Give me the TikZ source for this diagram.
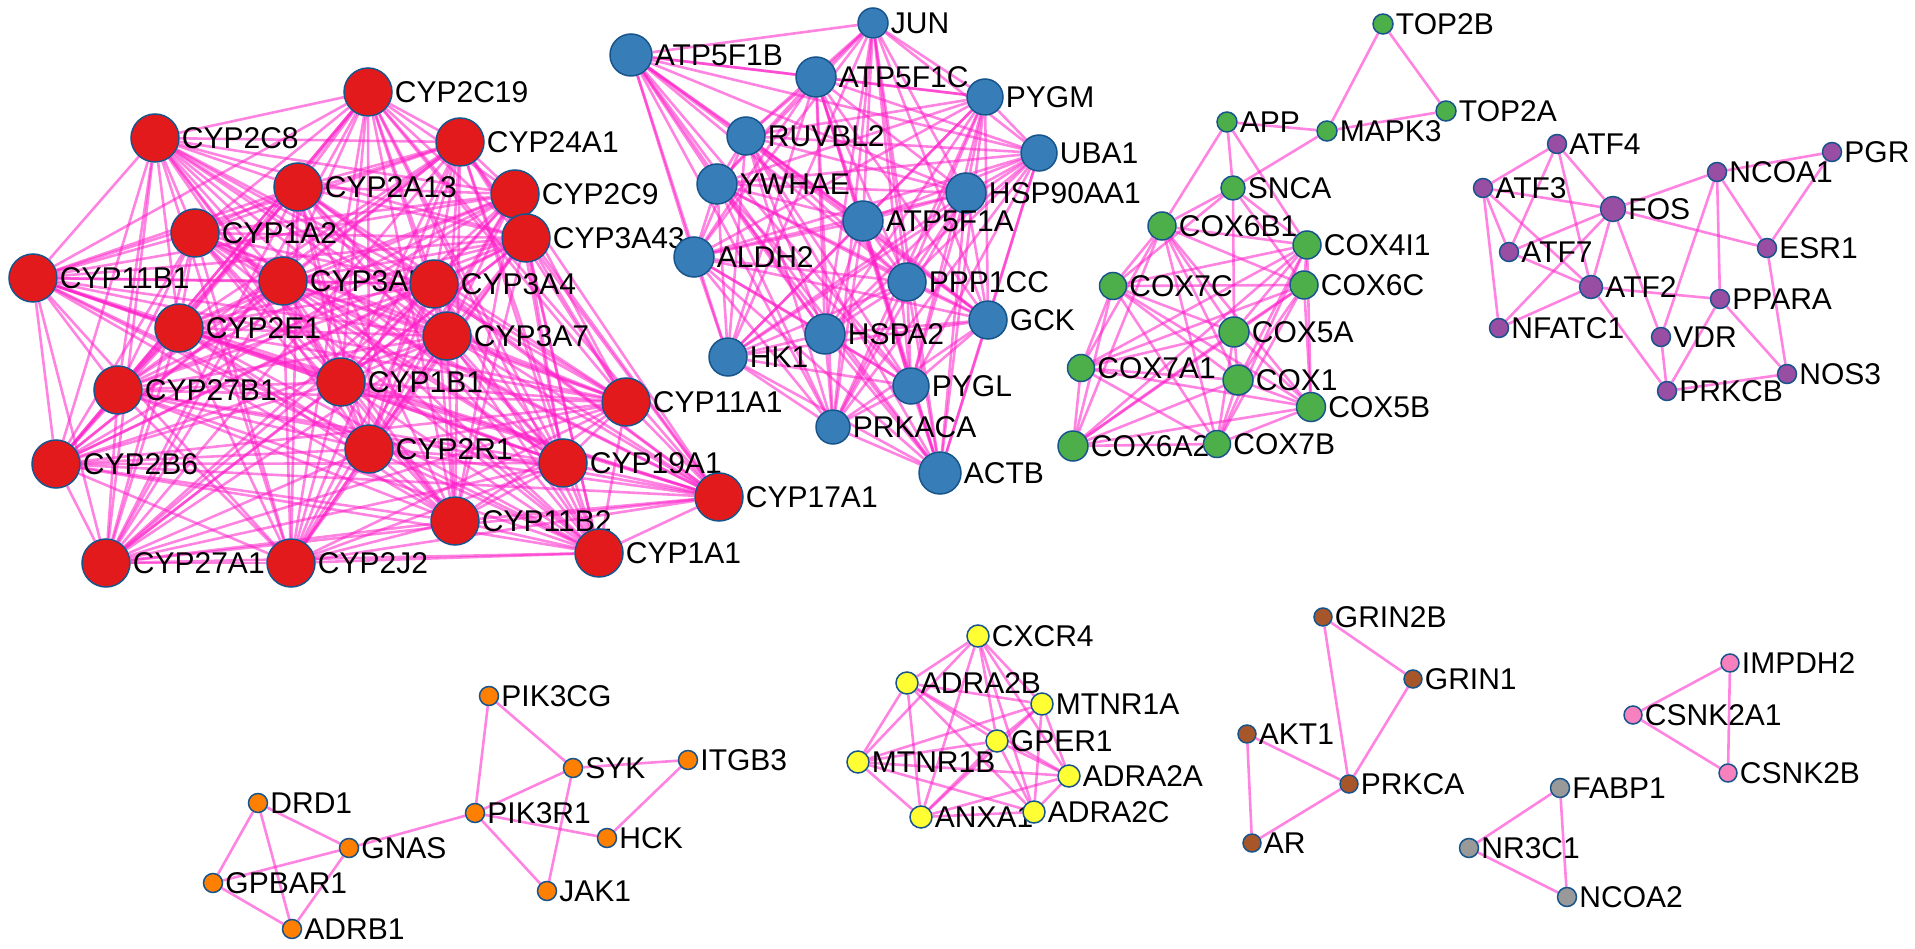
\documentclass[tikz,border=0pt]{standalone}
\usepackage{fontspec}
\setmainfont{Liberation Sans}
\usetikzlibrary{backgrounds}
\definecolor{cypred}{RGB}{227,26,28}
\definecolor{hubblue}{RGB}{55,126,184}
\definecolor{coxgreen}{RGB}{77,175,74}
\definecolor{atfpurple}{RGB}{152,78,163}
\definecolor{pikorange}{RGB}{255,127,0}
\definecolor{adrayellow}{RGB}{255,255,51}
\definecolor{grinbrown}{RGB}{166,86,40}
\definecolor{ckpink}{RGB}{247,129,191}
\definecolor{nrgray}{RGB}{153,153,153}
\definecolor{rim}{RGB}{24,84,140}
\definecolor{linkpink}{RGB}{255,30,200}

\tikzset{
  gene/.style={circle, draw=rim, line width=1.5pt, inner sep=0pt, minimum size=#1},
  cyp/.style={gene=48pt, fill=cypred},
  hub/.style={gene=#1, fill=hubblue}, hub/.default=38pt,
  cox/.style={gene=#1, fill=coxgreen}, cox/.default=28pt,
  atf/.style={gene=#1, fill=atfpurple}, atf/.default=19pt,
  pik/.style={gene=19pt, fill=pikorange},
  adra/.style={gene=22pt, fill=adrayellow},
  grin/.style={gene=18pt, fill=grinbrown},
  ck/.style={gene=18pt, fill=ckpink},
  nr/.style={gene=19pt, fill=nrgray},
  link/.style={linkpink, line width=2.6pt, opacity=0.55},
  every label/.style={font=\fontsize{30}{31}\selectfont, inner sep=0pt},
  label distance=2pt
}

% every pair of a list gets a link
\newcommand{\fullmesh}[1]{%
  \foreach \a [count=\i] in {#1} {
    \foreach \b [count=\j] in {#1} {
      \ifnum\j>\i\relax \draw[link] (\a) -- (\b); \fi
    }
  }
}

\begin{document}
\begin{tikzpicture}[x=1pt, y=-1pt]
  \useasboundingbox (0,0) rectangle (1915,949);

  % CYP cluster
  \node[cyp, label=right:CYP2C19] (c2C19) at (368,92) {};
  \node[cyp, label=right:CYP2C8] (c2C8) at (155,138) {};
  \node[cyp, label=right:CYP24A1] (c24A1) at (460,142) {};
  \node[cyp, label=right:CYP2A13] (c2A13) at (298,187) {};
  \node[cyp, label=right:CYP2C9] (c2C9) at (515,194) {};
  \node[cyp, label=right:CYP3A43] (c3A43) at (526,238) {};
  \node[cyp, label=right:CYP1A2] (c1A2) at (195,233) {};
  \node[cyp, label=right:CYP11B1] (c11B1) at (33,278) {};
  \node[cyp, label=right:CYP3A5] (c3A5) at (283,281) {};
  \node[cyp, label=right:CYP3A4] (c3A4) at (434,284) {};
  \node[cyp, label=right:CYP2E1] (c2E1) at (179,328) {};
  \node[cyp, label=right:CYP3A7] (c3A7) at (447,336) {};
  \node[cyp, label=right:CYP27B1] (c27B1) at (118,390) {};
  \node[cyp, label=right:CYP1B1] (c1B1) at (341,382) {};
  \node[cyp, label=right:CYP11A1] (c11A1) at (626,402) {};
  \node[cyp, label=right:CYP2B6] (c2B6) at (56,464) {};
  \node[cyp, label=right:CYP2R1] (c2R1) at (369,449) {};
  \node[cyp, label=right:CYP19A1] (c19A1) at (563,463) {};
  \node[cyp, label=right:CYP17A1] (c17A1) at (719,497) {};
  \node[cyp, label=right:CYP11B2] (c11B2) at (455,521) {};
  \node[cyp, label=right:CYP27A1] (c27A1) at (106,563) {};
  \node[cyp, label=right:CYP2J2] (c2J2) at (291,563) {};
  \node[cyp, label=right:CYP1A1] (c1A1) at (599,553) {};

  % ATP / kinase cluster
  \node[hub=30pt, label=right:JUN] (JUN) at (873,23) {};
  \node[hub=42pt, label=right:ATP5F1B] (ATP5F1B) at (631,55) {};
  \node[hub=40pt, label=right:ATP5F1C] (ATP5F1C) at (816,77) {};
  \node[hub=36pt, label=right:PYGM] (PYGM) at (985,97) {};
  \node[hub, label=right:RUVBL2] (RUVBL2) at (746,136) {};
  \node[hub=36pt, label=right:UBA1] (UBA1) at (1039,153) {};
  \node[hub=40pt, label=right:YWHAE] (YWHAE) at (717,184) {};
  \node[hub=40pt, label=right:HSP90AA1] (HSP90AA1) at (966,193) {};
  \node[hub=40pt, label=right:ATP5F1A] (ATP5F1A) at (863,221) {};
  \node[hub=40pt, label=right:ALDH2] (ALDH2) at (694,257) {};
  \node[hub, label=right:PPP1CC] (PPP1CC) at (907,282) {};
  \node[hub, label=right:GCK] (GCK) at (988,320) {};
  \node[hub=40pt, label=right:HSPA2] (HSPA2) at (825,334) {};
  \node[hub, label=right:HK1] (HK1) at (728,357) {};
  \node[hub=36pt, label=right:PYGL] (PYGL) at (911,386) {};
  \node[hub=34pt, label=right:PRKACA] (PRKACA) at (833,427) {};
  \node[hub=42pt, label=right:ACTB] (ACTB) at (940,473) {};

  % COX cluster
  \node[cox=20pt, label=right:TOP2B] (TOP2B) at (1383,24) {};
  \node[cox=20pt, label=right:TOP2A] (TOP2A) at (1446,111) {};
  \node[cox=20pt, label=right:APP] (APP) at (1227,122) {};
  \node[cox=20pt, label=right:MAPK3] (MAPK3) at (1327,131) {};
  \node[cox=24pt, label=right:SNCA] (SNCA) at (1233,188) {};
  \node[cox, label=right:COX6B1] (COX6B1) at (1162,226) {};
  \node[cox, label=right:COX4I1] (COX4I1) at (1307,245) {};
  \node[cox=27pt, label=right:COX7C] (COX7C) at (1113,286) {};
  \node[cox, label=right:COX6C] (COX6C) at (1304,285) {};
  \node[cox=30pt, label=right:COX5A] (COX5A) at (1234,332) {};
  \node[cox=27pt, label=right:COX7A1] (COX7A1) at (1081,368) {};
  \node[cox=30pt, label=right:COX1] (COX1) at (1238,380) {};
  \node[cox=29pt, label=right:COX5B] (COX5B) at (1311,407) {};
  \node[cox=30pt, label=right:COX6A2] (COX6A2) at (1073,446) {};
  \node[cox=27pt, label=right:COX7B] (COX7B) at (1217,444) {};

  % ATF cluster
  \node[atf, label=right:ATF4] (ATF4) at (1557,144) {};
  \node[atf, label=right:ATF3] (ATF3) at (1483,188) {};
  \node[atf=25pt, label=right:FOS] (FOS) at (1613,209) {};
  \node[atf, label=right:NCOA1] (NCOA1) at (1717,172) {};
  \node[atf, label=right:PGR] (PGR) at (1832,152) {};
  \node[atf, label=right:ATF7] (ATF7) at (1509,252) {};
  \node[atf, label=right:ESR1] (ESR1) at (1767,248) {};
  \node[atf=23pt, label=right:ATF2] (ATF2) at (1591,287) {};
  \node[atf, label=right:PPARA] (PPARA) at (1720,299) {};
  \node[atf, label=right:NFATC1] (NFATC1) at (1499,328) {};
  \node[atf, label=right:VDR] (VDR) at (1661,337) {};
  \node[atf, label=right:NOS3] (NOS3) at (1787,374) {};
  \node[atf, label=right:PRKCB] (PRKCB) at (1667,391) {};

  % PIK3 cluster
  \node[pik, label=right:PIK3CG] (PIK3CG) at (489,696) {};
  \node[pik, label=right:SYK] (SYK) at (573,768) {};
  \node[pik, label=right:ITGB3] (ITGB3) at (688,760) {};
  \node[pik, label=right:DRD1] (DRD1) at (258,803) {};
  \node[pik, label=right:PIK3R1] (PIK3R1) at (475,813) {};
  \node[pik, label=right:HCK] (HCK) at (607,838) {};
  \node[pik, label=right:GNAS] (GNAS) at (349,848) {};
  \node[pik, label=right:GPBAR1] (GPBAR1) at (213,883) {};
  \node[pik, label=right:JAK1] (JAK1) at (547,891) {};
  \node[pik, label=right:ADRB1] (ADRB1) at (292,929) {};

  % receptor cluster
  \node[adra, label=right:CXCR4] (CXCR4) at (978,636) {};
  \node[adra, label=right:ADRA2B] (ADRA2B) at (907,683) {};
  \node[adra, label=right:MTNR1A] (MTNR1A) at (1042,704) {};
  \node[adra, label=right:MTNR1B] (MTNR1B) at (858,762) {};
  \node[adra, label=right:GPER1] (GPER1) at (997,741) {};
  \node[adra, label=right:ADRA2A] (ADRA2A) at (1069,776) {};
  \node[adra, label=right:ANXA1] (ANXA1) at (921,817) {};
  \node[adra, label=right:ADRA2C] (ADRA2C) at (1034,812) {};

  % small groups
  \node[grin, label=right:GRIN2B] (GRIN2B) at (1323,617) {};
  \node[grin, label=right:GRIN1] (GRIN1) at (1413,679) {};
  \node[grin, label=right:AKT1] (AKT1) at (1247,734) {};
  \node[grin, label=right:PRKCA] (PRKCA) at (1349,784) {};
  \node[grin, label=right:AR] (AR) at (1252,843) {};
  \node[ck, label=right:IMPDH2] (IMPDH2) at (1730,663) {};
  \node[ck, label=right:CSNK2A1] (CSNK2A1) at (1633,715) {};
  \node[ck, label=right:CSNK2B] (CSNK2B) at (1728,773) {};
  \node[nr, label=right:FABP1] (FABP1) at (1560,788) {};
  \node[nr, label=right:NR3C1] (NR3C1) at (1469,848) {};
  \node[nr, label=right:NCOA2] (NCOA2) at (1567,897) {};

  % links, behind the nodes
  \begin{scope}[on background layer]
    \fullmesh{c2C19,c2C8,c24A1,c2A13,c2C9,c3A43,c1A2,c11B1,c3A5,c3A4,c2E1,c3A7,c27B1,c1B1,c11A1,c2B6,c2R1,c19A1,c17A1,c11B2,c27A1,c2J2,c1A1}
    \fullmesh{JUN,ATP5F1B,ATP5F1C,PYGM,RUVBL2,UBA1,YWHAE,HSP90AA1,ATP5F1A,ALDH2,PPP1CC,GCK,HSPA2,HK1,PYGL,PRKACA,ACTB}
    \fullmesh{COX6B1,COX4I1,COX7C,COX6C,COX5A,COX7A1,COX1,COX5B,COX6A2,COX7B}
    \fullmesh{CXCR4,ADRA2B,MTNR1A,MTNR1B,GPER1,ADRA2A,ANXA1,ADRA2C}
    \foreach \a/\b in {TOP2B/MAPK3, TOP2B/TOP2A, TOP2A/MAPK3, MAPK3/APP, MAPK3/SNCA,
        APP/SNCA, APP/COX6B1, APP/COX4I1, SNCA/COX6B1, SNCA/COX7C, SNCA/COX5A,
        SNCA/COX4I1, SNCA/COX6C}
      \draw[link] (\a) -- (\b);
    \foreach \a/\b in {ATF4/ATF3, ATF4/FOS, ATF4/ATF7, ATF4/ATF2, ATF3/FOS, ATF3/ATF7,
        ATF3/ATF2, ATF3/NFATC1, FOS/ATF7, FOS/ATF2, FOS/NFATC1, FOS/NCOA1, FOS/ESR1,
        FOS/VDR, ATF7/ATF2, ATF2/NFATC1, ATF2/PPARA, ATF2/PRKCB, NCOA1/PGR, NCOA1/ESR1,
        NCOA1/PPARA, NCOA1/VDR, PGR/ESR1, ESR1/NOS3, PPARA/NOS3, PPARA/PRKCB,
        VDR/PRKCB, PRKCB/NOS3}
      \draw[link] (\a) -- (\b);
    \foreach \a/\b in {DRD1/GNAS, DRD1/GPBAR1, DRD1/ADRB1, GNAS/GPBAR1, GNAS/ADRB1,
        GPBAR1/ADRB1, GNAS/PIK3R1, PIK3R1/PIK3CG, PIK3CG/SYK, PIK3R1/SYK, PIK3R1/HCK,
        PIK3R1/JAK1, SYK/JAK1, SYK/ITGB3, ITGB3/HCK}
      \draw[link] (\a) -- (\b);
    \foreach \a/\b in {GRIN2B/GRIN1, GRIN2B/PRKCA, GRIN1/PRKCA, AKT1/PRKCA, AKT1/AR,
        PRKCA/AR, IMPDH2/CSNK2A1, IMPDH2/CSNK2B, CSNK2A1/CSNK2B, FABP1/NR3C1,
        FABP1/NCOA2, NR3C1/NCOA2}
      \draw[link] (\a) -- (\b);
  \end{scope}
\end{tikzpicture}
\end{document}
